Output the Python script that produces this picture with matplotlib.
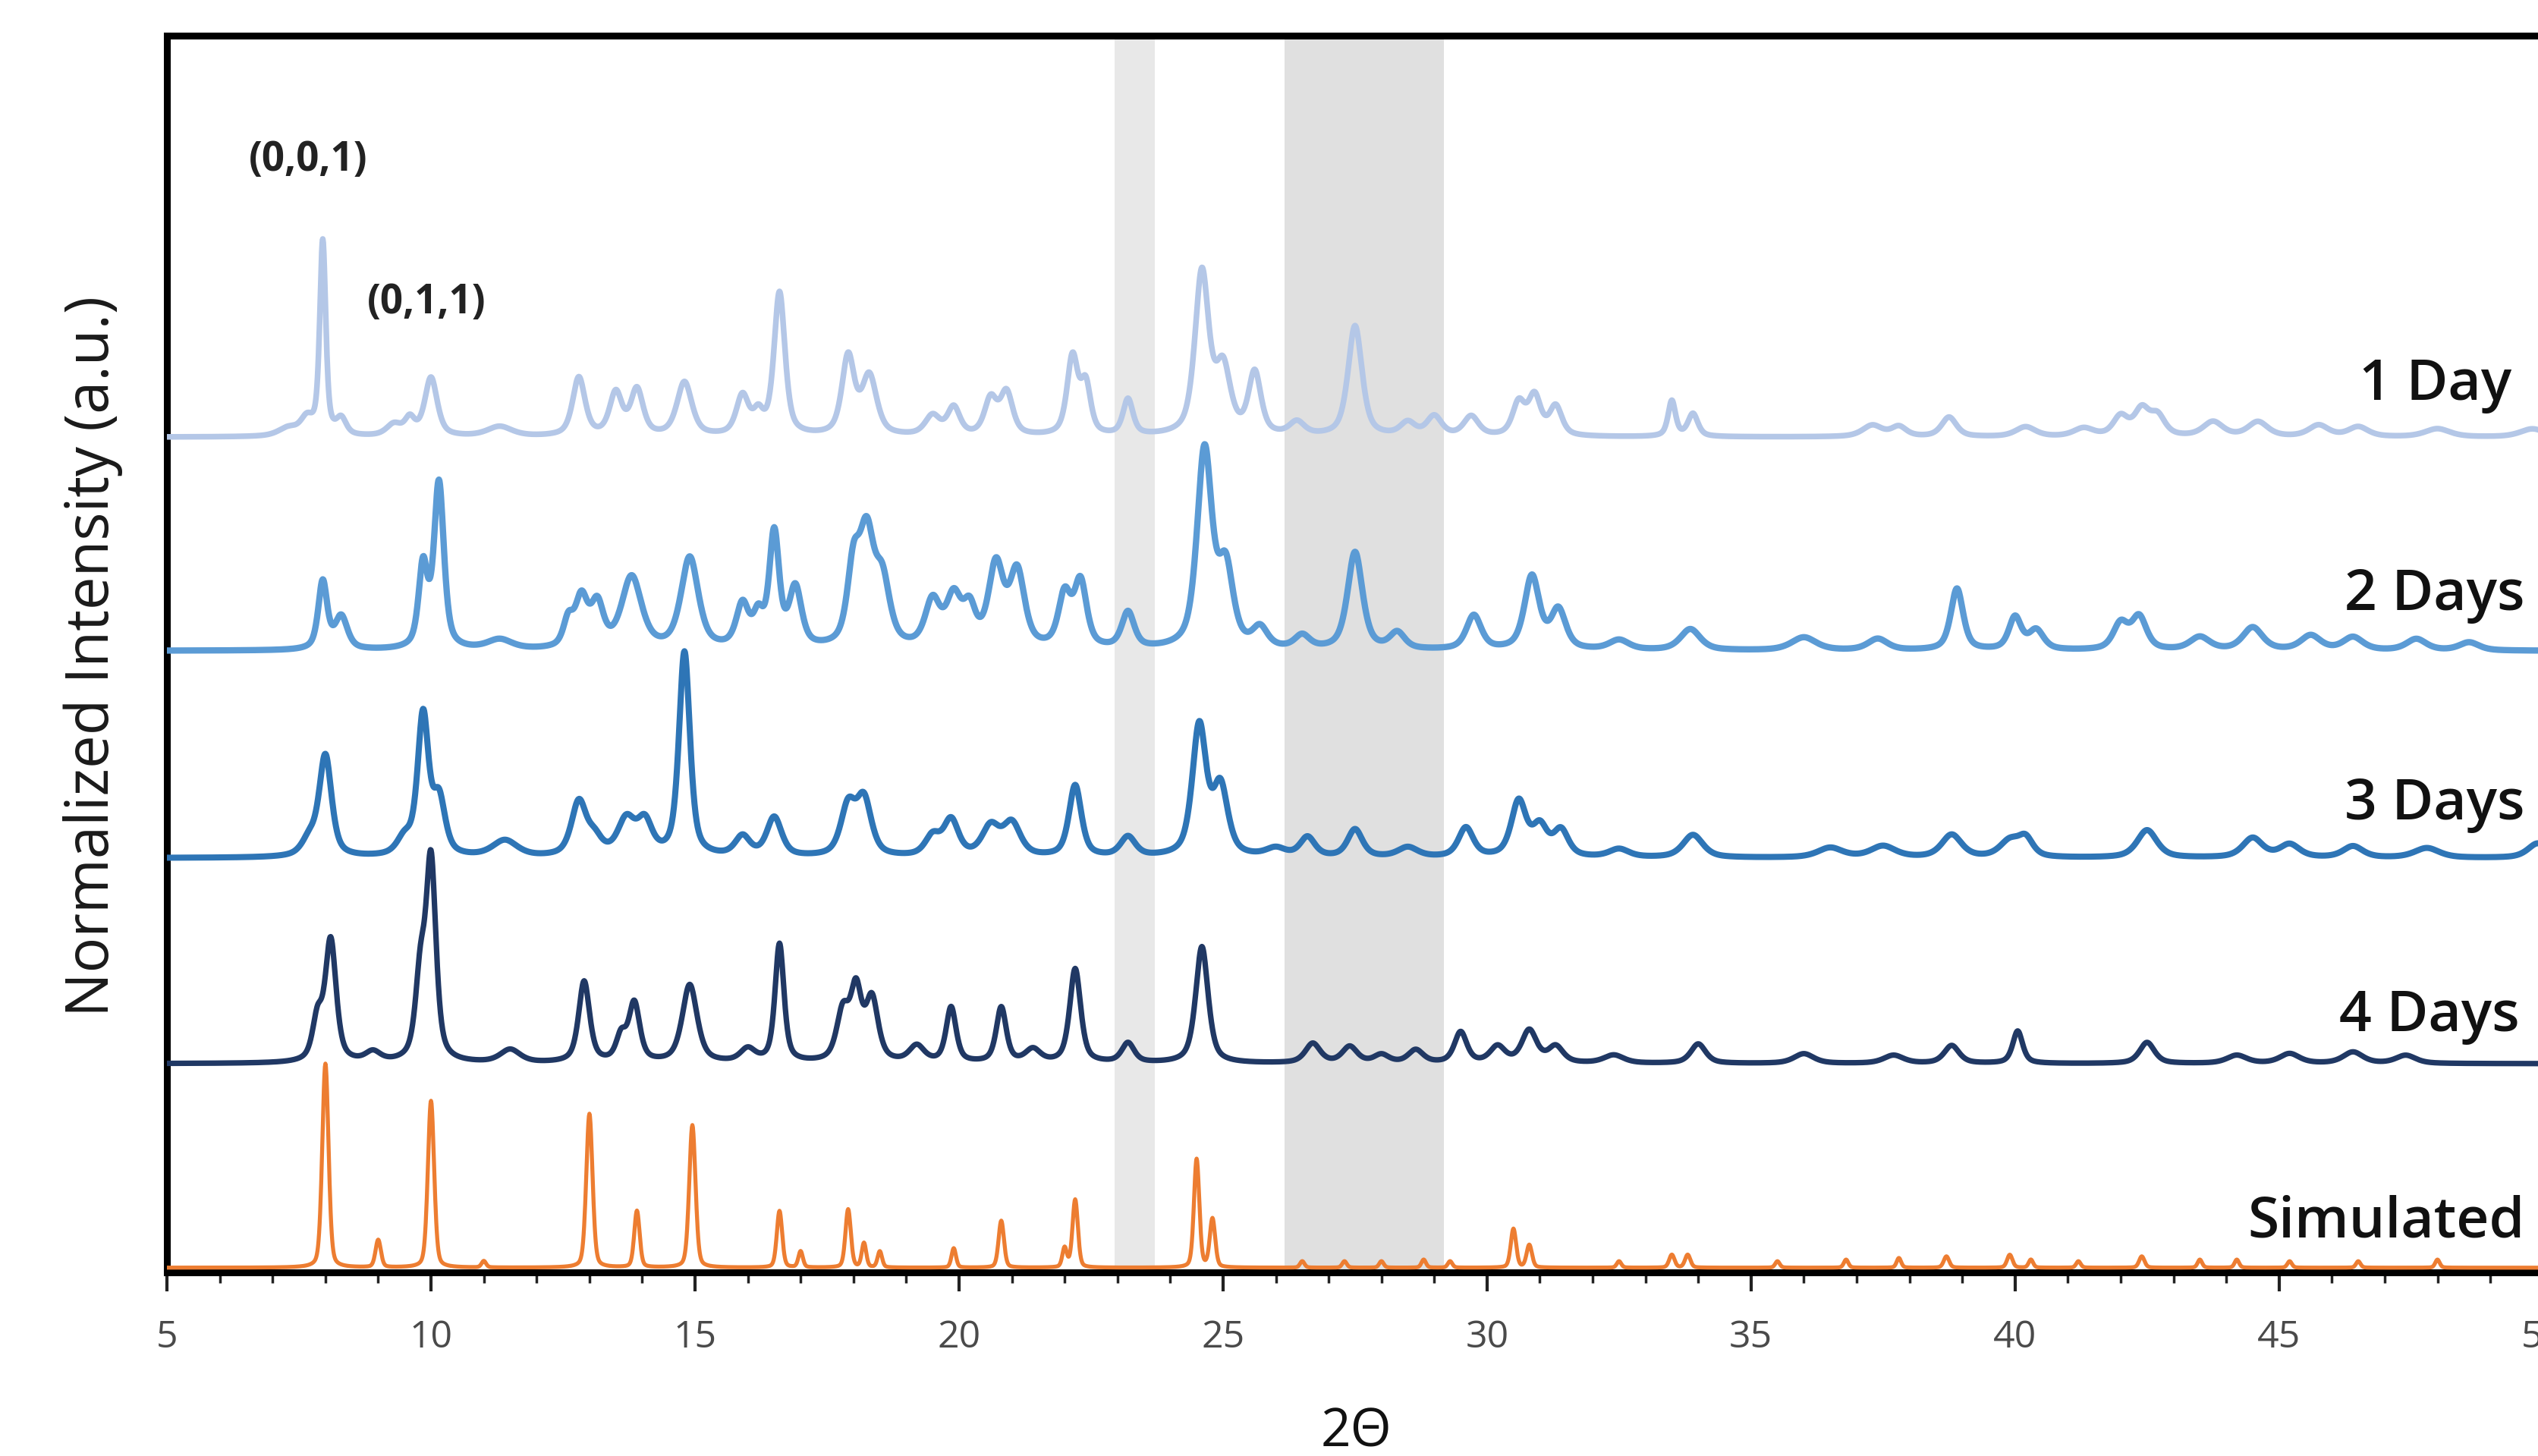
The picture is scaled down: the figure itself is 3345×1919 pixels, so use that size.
import numpy as np
import matplotlib
matplotlib.use("Agg")
import matplotlib.pyplot as plt
from matplotlib.ticker import MultipleLocator

# peak lists: (2theta, height, fwhm)
day1_peaks = [
    (7.3, 0.05, 0.4), (7.65, 0.10, 0.25), (7.95, 1.20, 0.12), (8.3, 0.10, 0.2),
    (9.3, 0.07, 0.3), (9.6, 0.10, 0.2), (10.0, 0.36, 0.25), (11.3, 0.06, 0.5),
    (12.8, 0.36, 0.25), (13.5, 0.26, 0.25), (13.9, 0.28, 0.25), (14.8, 0.33, 0.3),
    (15.9, 0.24, 0.25), (16.2, 0.12, 0.2), (16.6, 0.88, 0.22), (17.9, 0.48, 0.25),
    (18.3, 0.36, 0.3), (19.5, 0.12, 0.3), (19.9, 0.17, 0.25), (20.6, 0.22, 0.25),
    (20.9, 0.26, 0.25), (22.15, 0.48, 0.22), (22.4, 0.30, 0.2), (23.2, 0.22, 0.2),
    (24.6, 1.00, 0.28), (25.0, 0.40, 0.3), (25.6, 0.38, 0.25), (26.4, 0.08, 0.3),
    (27.5, 0.68, 0.28), (28.5, 0.08, 0.3), (29.0, 0.12, 0.3), (29.7, 0.12, 0.3),
    (30.6, 0.20, 0.25), (30.9, 0.24, 0.25), (31.3, 0.18, 0.25), (33.5, 0.22, 0.15),
    (33.9, 0.14, 0.2), (37.3, 0.07, 0.4), (37.8, 0.06, 0.3), (38.75, 0.12, 0.3),
    (40.2, 0.06, 0.4), (41.3, 0.05, 0.4), (42.0, 0.12, 0.3), (42.4, 0.16, 0.3),
    (42.7, 0.12, 0.3), (43.75, 0.09, 0.4), (44.6, 0.09, 0.4), (45.75, 0.07, 0.4),
    (46.5, 0.06, 0.4), (48.0, 0.05, 0.5), (49.8, 0.05, 0.5),
]

day2_peaks = [
    (7.95, 0.42, 0.18), (8.3, 0.20, 0.25), (9.85, 0.50, 0.18), (10.15, 1.02, 0.2),
    (11.3, 0.06, 0.5), (12.6, 0.16, 0.2), (12.85, 0.30, 0.25), (13.15, 0.26, 0.25),
    (13.8, 0.44, 0.4), (14.9, 0.56, 0.35), (15.9, 0.26, 0.25), (16.2, 0.18, 0.2),
    (16.5, 0.70, 0.2), (16.9, 0.36, 0.25), (18.0, 0.45, 0.25), (18.25, 0.66, 0.3),
    (18.55, 0.38, 0.3), (19.5, 0.28, 0.3), (19.9, 0.30, 0.3), (20.2, 0.22, 0.25),
    (20.7, 0.50, 0.3), (21.1, 0.46, 0.3), (22.0, 0.32, 0.25), (22.3, 0.40, 0.25),
    (23.2, 0.22, 0.25), (24.65, 1.22, 0.3), (25.05, 0.48, 0.3), (25.7, 0.12, 0.3),
    (26.5, 0.08, 0.3), (27.5, 0.60, 0.3), (28.3, 0.10, 0.3), (29.75, 0.21, 0.3),
    (30.85, 0.45, 0.3), (31.35, 0.24, 0.3), (32.5, 0.06, 0.4), (33.85, 0.13, 0.4),
    (36.0, 0.08, 0.5), (37.4, 0.07, 0.4), (38.9, 0.38, 0.25), (40.0, 0.20, 0.25),
    (40.4, 0.12, 0.3), (42.0, 0.16, 0.3), (42.35, 0.20, 0.3), (43.5, 0.08, 0.4),
    (44.5, 0.14, 0.4), (45.6, 0.09, 0.4), (46.4, 0.08, 0.4), (47.6, 0.07, 0.4),
    (48.6, 0.05, 0.4),
]

day3_peaks = [
    (7.7, 0.10, 0.3), (8.0, 0.62, 0.25), (9.5, 0.10, 0.3), (9.85, 0.86, 0.22),
    (10.15, 0.34, 0.25), (11.4, 0.10, 0.5), (12.8, 0.33, 0.3), (13.1, 0.10, 0.3),
    (13.7, 0.22, 0.35), (14.05, 0.20, 0.3), (14.8, 1.26, 0.22), (15.9, 0.12, 0.3),
    (16.5, 0.24, 0.3), (17.9, 0.30, 0.3), (18.2, 0.34, 0.3), (19.5, 0.12, 0.3),
    (19.85, 0.22, 0.3), (20.6, 0.18, 0.35), (21.0, 0.20, 0.35), (22.2, 0.44, 0.25),
    (23.2, 0.12, 0.3), (24.55, 0.80, 0.28), (24.95, 0.42, 0.3), (26.0, 0.05, 0.4),
    (26.6, 0.12, 0.3), (27.5, 0.17, 0.3), (28.5, 0.06, 0.4), (29.6, 0.18, 0.3),
    (30.6, 0.34, 0.3), (31.0, 0.18, 0.3), (31.4, 0.16, 0.3), (32.5, 0.05, 0.4),
    (33.9, 0.14, 0.4), (36.5, 0.06, 0.5), (37.5, 0.07, 0.5), (38.8, 0.14, 0.4),
    (39.9, 0.10, 0.4), (40.2, 0.11, 0.3), (42.5, 0.17, 0.4), (44.5, 0.12, 0.4),
    (45.2, 0.08, 0.4), (46.4, 0.07, 0.4), (47.8, 0.06, 0.5), (49.9, 0.09, 0.4),
]

day4_peaks = [
    (7.85, 0.25, 0.2), (8.1, 0.75, 0.22), (8.9, 0.06, 0.3), (9.8, 0.50, 0.2),
    (10.0, 1.22, 0.2), (11.5, 0.08, 0.4), (12.9, 0.50, 0.22), (13.6, 0.15, 0.2),
    (13.85, 0.36, 0.22), (14.9, 0.48, 0.3), (16.0, 0.08, 0.3), (16.6, 0.73, 0.18),
    (17.8, 0.30, 0.25), (18.05, 0.42, 0.22), (18.35, 0.38, 0.25), (19.2, 0.10, 0.3),
    (19.85, 0.34, 0.2), (20.8, 0.34, 0.2), (21.4, 0.08, 0.3), (22.2, 0.58, 0.22),
    (23.2, 0.12, 0.25), (24.6, 0.72, 0.25), (26.7, 0.12, 0.3), (27.4, 0.10, 0.3),
    (28.0, 0.05, 0.3), (28.65, 0.08, 0.3), (29.5, 0.19, 0.25), (30.2, 0.10, 0.3),
    (30.8, 0.20, 0.3), (31.3, 0.10, 0.3), (32.4, 0.05, 0.4), (34.0, 0.12, 0.3),
    (36.0, 0.06, 0.4), (37.7, 0.05, 0.4), (38.8, 0.11, 0.3), (40.05, 0.20, 0.2),
    (42.5, 0.13, 0.3), (44.2, 0.05, 0.4), (45.2, 0.06, 0.4), (46.4, 0.07, 0.4),
    (47.4, 0.05, 0.4),
]

simulated_peaks = [
    (8.0, 1.26, 0.14), (9.0, 0.17, 0.12), (10.0, 1.03, 0.14), (11.0, 0.04, 0.1),
    (13.0, 0.95, 0.14), (13.9, 0.35, 0.12), (14.95, 0.88, 0.14), (16.6, 0.35, 0.12),
    (17.0, 0.10, 0.1), (17.9, 0.36, 0.12), (18.2, 0.15, 0.1), (18.5, 0.10, 0.1),
    (19.9, 0.12, 0.1), (20.8, 0.29, 0.12), (22.0, 0.12, 0.1), (22.2, 0.42, 0.12),
    (24.5, 0.67, 0.12), (24.8, 0.30, 0.12), (26.5, 0.04, 0.1), (27.3, 0.04, 0.1),
    (28.0, 0.04, 0.1), (28.8, 0.05, 0.1), (29.3, 0.04, 0.1), (30.5, 0.24, 0.12),
    (30.8, 0.14, 0.12), (32.5, 0.04, 0.1), (33.5, 0.08, 0.12), (33.8, 0.08, 0.12),
    (35.5, 0.04, 0.1), (36.8, 0.05, 0.1), (37.8, 0.06, 0.1), (38.7, 0.07, 0.12),
    (39.9, 0.08, 0.12), (40.3, 0.05, 0.1), (41.2, 0.04, 0.1), (42.4, 0.07, 0.12),
    (43.5, 0.05, 0.1), (44.2, 0.05, 0.1), (45.2, 0.04, 0.1), (46.5, 0.04, 0.1),
    (48.0, 0.05, 0.1),
]

series_names = ["1 Day", "2 Days", "3 Days", "4 Days", "Simulated"]
series_peaks = [day1_peaks, day2_peaks, day3_peaks, day4_peaks, simulated_peaks]
series_offsets = [5.16, 3.84, 2.56, 1.29, 0.03]
series_colors = ["#b4c7e7", "#5b9bd5", "#2e75b6", "#203864", "#ed7d31"]
series_widths = [5.4, 6.0, 5.8, 5.2, 3.8]
label_x = [49.4, 49.65, 49.65, 49.55, 49.65]
label_y = [5.48, 4.18, 2.89, 1.58, 0.31]

hkl_labels = ["(0,0,1)", "(0,1,1)"]
hkl_x = [7.67, 9.92]
hkl_y = [6.87, 5.99]

bands = [(22.94, 23.71, "#e8e8e8"), (26.17, 29.18, "#e0e0e0")]

two_theta = np.arange(5.0, 50.01, 0.01)


def pattern(peaks, eta=0.5, broaden=1.0):
    y = np.zeros_like(two_theta)
    for pos, h, fwhm in peaks:
        d = (two_theta - pos) / (fwhm * broaden / 2)
        gauss = np.exp(-np.log(2) * d ** 2)
        lor = 1.0 / (1.0 + d ** 2)
        y += h * (eta * lor + (1 - eta) * gauss)
    return y


def main() -> None:
    plt.rcParams["font.family"] = ["Open Sans", "DejaVu Sans"]
    fig = plt.figure(figsize=(33.45, 19.19), dpi=100)
    ax = fig.add_axes([0.0658, 0.126, 0.9362, 0.8495])

    for lo, hi, c in bands:
        ax.axvspan(lo, hi, color=c, zorder=0, lw=0)

    for name, peaks, off, c, lw, lx, ly in zip(series_names, series_peaks, series_offsets,
                                               series_colors, series_widths, label_x, label_y):
        if name == "Simulated":
            y = pattern(peaks, 0.3, 1.0)
        else:
            y = pattern(peaks, 0.6, 1.12)
        ax.plot(two_theta, y + off, color=c, lw=lw, zorder=3, solid_joinstyle="round")
        ax.text(lx, ly, name, ha="right", va="center", fontsize=54, fontweight="semibold",
                color="#111111", zorder=4)

    for t, x, y in zip(hkl_labels, hkl_x, hkl_y):
        ax.text(x, y, t, ha="center", va="center", fontsize=38, fontweight="bold",
                color="#222222", zorder=4)

    ax.set_xlim(5, 50)
    ax.set_ylim(0, 7.64)
    ax.xaxis.set_major_locator(MultipleLocator(5))
    ax.xaxis.set_minor_locator(MultipleLocator(1))
    ax.set_yticks([])
    ax.tick_params(axis="x", which="major", direction="out", length=18, width=3,
                   color="#222222", labelsize=36, labelcolor="#4a4a4a", pad=26)
    ax.tick_params(axis="x", which="minor", direction="out", length=10, width=2.5,
                   color="#222222")

    for side in ["left", "top", "bottom"]:
        ax.spines[side].set_linewidth(6.5)
        ax.spines[side].set_color("black")
    ax.spines["right"].set_visible(False)

    fig.text(0.5345, 0.016, "2\u0398", ha="center", va="center", fontsize=50, color="#111111")
    fig.text(0.0365, 0.549, "Normalized Intensity (a.u.)", rotation=90, ha="center",
             va="center", fontsize=56, color="#1a1a1a")

    fig.savefig("out.png", dpi=100, facecolor="white")
    plt.close(fig)


if __name__ == "__main__":
    main()
